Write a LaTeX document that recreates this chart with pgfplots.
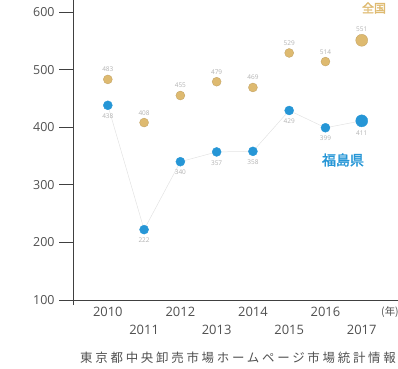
\documentclass[border=0pt]{standalone}
\usepackage{pgfplots}
\pgfplotsset{compat=1.18}
\usepackage{fontspec}
\setmainfont{Open Sans}
\newfontfamily\jp{Noto Sans CJK JP}
\newfontfamily\jpb[FakeBold=2]{Noto Sans CJK JP}
\newfontfamily\jpsp[LetterSpace=22]{Noto Sans CJK JP}
\definecolor{zen}{RGB}{222,186,112}
\definecolor{fuku}{RGB}{38,150,214}
\definecolor{tk}{RGB}{80,80,80}

\begin{document}
\begin{tikzpicture}[x=1bp,y=1bp]
\useasboundingbox (0,0) rectangle (398,369);
\begin{axis}[
  at={(73bp,64bp)}, anchor=south west,
  scale only axis, width=325bp, height=305bp,
  xmin=2009.04, xmax=2018, ymin=91, ymax=621,
  axis x line=none, axis y line=left,
  axis line style={-, black!75, line width=0.6pt},
  ytick={100,200,...,600},
  tick align=outside, major tick length=14bp,
  tick style={black!75, line width=0.6pt},
  yticklabel style={font=\fontsize{12.5}{13}\selectfont, text=tk, xshift=-1bp},
  /pgf/number format/assume math mode=true,
  clip=false,
  nodes near coords,
  every node near coord/.append style={font=\fontsize{6.5}{6.5}\selectfont, text=gray!60},
]
% faint connector through the Fukushima series
\addplot[gray!22, line width=0.5pt, no marks, nodes near coords=\empty] coordinates {
  (2010,438) (2011,222) (2012,340) (2013,357) (2014,358) (2015,429) (2016,399) (2017,411)};

% national average
\addplot[only marks, mark=*, mark size=4.5bp, zen, mark options={draw=zen!85!black, line width=0.3pt},
  every node near coord/.append style={anchor=south, yshift=4bp}] coordinates {
  (2010,483) (2011,408) (2012,455) (2013,479) (2014,469) (2015,529) (2016,514)};
\addplot[only marks, mark=*, mark size=6bp, zen, mark options={draw=zen!85!black, line width=0.3pt},
  every node near coord/.append style={anchor=south, yshift=5bp}] coordinates {
  (2017,551)};

% Fukushima
\addplot[only marks, mark=*, mark size=4.5bp, fuku, mark options={draw=fuku},
  every node near coord/.append style={anchor=north, yshift=-5bp}] coordinates {
  (2010,438) (2011,222) (2012,340) (2013,357) (2014,358) (2015,429) (2016,399)};
\addplot[only marks, mark=*, mark size=6bp, fuku, mark options={draw=fuku},
  every node near coord/.append style={anchor=north, yshift=-6bp}] coordinates {
  (2017,411)};

% baseline at 100
\draw[black!75, line width=0.6pt] (axis cs:2009.04,100) -- (axis cs:2018,100);

% staggered year labels
\pgfplotsinvokeforeach{2010,2012,2014,2016}{
  \node[font=\fontsize{13}{13}\selectfont, text=tk] at (axis cs:#1,100) [yshift=-12bp] {#1};}
\pgfplotsinvokeforeach{2011,2013,2015,2017}{
  \node[font=\fontsize{13}{13}\selectfont, text=tk] at (axis cs:#1,100) [yshift=-30bp] {#1};}
\end{axis}

\node[font=\jp\fontsize{10.5}{11}\selectfont, text=tk] at (390,57) {(年)};
\node[font=\jpb\fontsize{14}{14}\selectfont, text=fuku] at (343,209) {福島県};
\node[font=\jpb\fontsize{12}{12}\selectfont, text=zen, inner sep=1bp] at (374,361) {全国};
\node[font=\jpsp\fontsize{12.5}{12.5}\selectfont, text=tk, anchor=west, inner sep=0pt] at (80,11) {東京都中央卸売市場ホームページ市場統計情報};
\end{tikzpicture}
\end{document}
